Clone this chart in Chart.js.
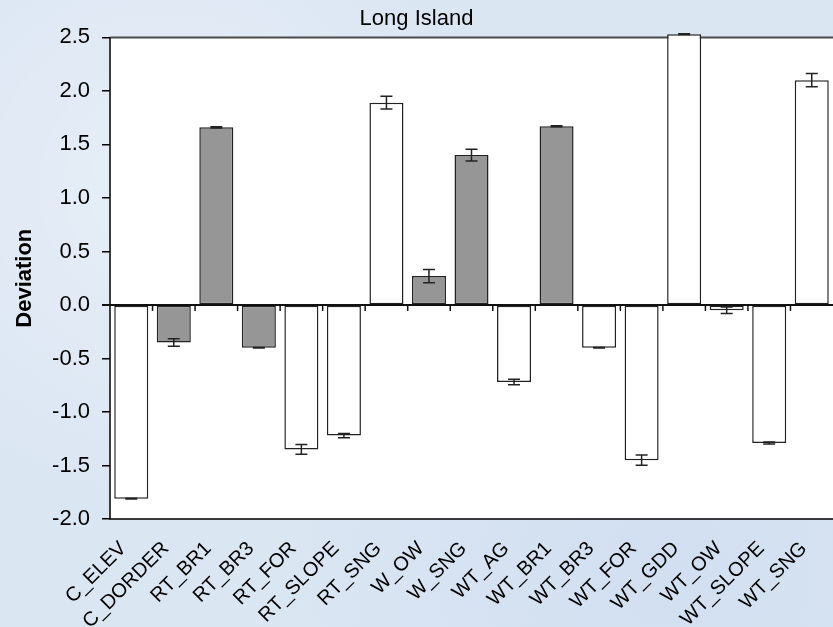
<!DOCTYPE html>
<html>
<head>
<meta charset="utf-8">
<script src="https://cdn.jsdelivr.net/npm/chart.js@4.4.1/dist/chart.umd.min.js"></script>
<style>
  html, body { margin: 0; padding: 0; overflow: hidden; }
  body {
    width: 833px; height: 627px;
    background-color: #dbe6f3;
    background-image:
      radial-gradient(circle at 20% 30%, rgba(255,255,255,0.35), rgba(255,255,255,0) 40%),
      radial-gradient(circle at 80% 90%, rgba(190,210,235,0.35), rgba(190,210,235,0) 45%);
  }
  #wrap { width: 833px; height: 627px; position: relative; }
</style>
</head>
<body>
<div id="wrap"><canvas id="graficoDesviacion"></canvas></div>
<script>
// categorias y valores
const categorias = ['C_ELEV', 'C_DORDER', 'RT_BR1', 'RT_BR3', 'RT_FOR', 'RT_SLOPE', 'RT_SNG', 'W_OW',
  'W_SNG', 'WT_AG', 'WT_BR1', 'WT_BR3', 'WT_FOR', 'WT_GDD', 'WT_OW', 'WT_SLOPE', 'WT_SNG'];
const desviacion = [-1.81, -0.35, 1.66, -0.40, -1.35, -1.22, 1.89, 0.27,
  1.40, -0.72, 1.67, -0.40, -1.45, 2.53, -0.05, -1.29, 2.10];
const errores = [0.003, 0.035, 0.006, 0.003, 0.045, 0.02, 0.06, 0.062,
  0.056, 0.025, 0.004, 0.003, 0.047, 0.004, 0.03, 0.01, 0.062];
// true = barra gris
const esGris = [false, true, true, true, false, false, false, true,
  true, false, true, false, false, false, false, false, false];
const ticksY = [-2.0, -1.5, -1.0, -0.5, 0.0, 0.5, 1.0, 1.5, 2.0, 2.5];

const colores = esGris.map(g => g ? '#969696' : '#ffffff');

// fondo blanco, marco, linea cero y barras de error
const marcoPlugin = {
  id: 'marco',
  beforeDatasetsDraw(chart) {
    const { ctx, chartArea: a } = chart;
    ctx.save();
    ctx.fillStyle = '#ffffff';
    ctx.fillRect(a.left, a.top, a.right - a.left, a.bottom - a.top);
    ctx.lineWidth = 2;
    ctx.strokeStyle = '#4a4a4a';
    ctx.beginPath();
    ctx.moveTo(a.left, a.top);
    ctx.lineTo(a.right, a.top);
    ctx.stroke();
    ctx.strokeStyle = '#000000';
    ctx.lineWidth = 1.5;
    ctx.beginPath();
    ctx.moveTo(a.left, a.top);
    ctx.lineTo(a.left, a.bottom);
    ctx.lineTo(a.right, a.bottom);
    ctx.stroke();
    ctx.restore();
  },
  afterDatasetsDraw(chart) {
    const { ctx, chartArea: a, scales } = chart;
    const x = scales.x, y = scales.y;
    const y0 = y.getPixelForValue(0);
    ctx.save();
    // barras de error
    ctx.strokeStyle = '#222222';
    ctx.lineWidth = 1.5;
    desviacion.forEach((v, i) => {
      const cx = x.getPixelForValue(i);
      const yHi = y.getPixelForValue(v + errores[i]);
      const yLo = y.getPixelForValue(v - errores[i]);
      ctx.beginPath();
      ctx.moveTo(cx, yHi); ctx.lineTo(cx, yLo);
      ctx.moveTo(cx - 6, yHi); ctx.lineTo(cx + 6, yHi);
      ctx.moveTo(cx - 6, yLo); ctx.lineTo(cx + 6, yLo);
      ctx.stroke();
    });
    // linea cero
    ctx.strokeStyle = '#111111';
    ctx.lineWidth = 2;
    ctx.beginPath();
    ctx.moveTo(a.left - 8, y0);
    ctx.lineTo(a.right, y0);
    ctx.stroke();
    // marcas entre categorias
    ctx.lineWidth = 1.5;
    const paso = (a.right - a.left) / categorias.length;
    for (let i = 1; i < categorias.length; i++) {
      const tx = a.left + paso * i;
      ctx.beginPath();
      ctx.moveTo(tx, y0);
      ctx.lineTo(tx, y0 + 6);
      ctx.stroke();
    }
    ctx.restore();
  }
};

const ctx = document.getElementById('graficoDesviacion');
new Chart(ctx, {
  type: 'bar',
  data: {
    labels: categorias,
    datasets: [{
      label: 'Deviation',
      data: desviacion,
      backgroundColor: colores,
      borderColor: '#222222',
      borderWidth: 1.5,
      borderSkipped: false,
      barPercentage: 0.8,
      categoryPercentage: 1.0,
      clip: false
    }]
  },
  options: {
    responsive: true,
    maintainAspectRatio: false,
    animation: false,
    layout: { padding: { left: 0, right: 0, top: 0, bottom: 0 } },
    plugins: {
      legend: { display: false },
      tooltip: { enabled: false },
      title: {
        display: true,
        text: 'Long Island',
        color: '#000000',
        font: { family: 'Liberation Sans, Arial, sans-serif', size: 22, weight: 'normal' },
        padding: { top: 6, bottom: 5 }
      }
    },
    scales: {
      x: {
        grid: { display: false, drawTicks: false },
        border: { display: false },
        ticks: {
          color: '#000000',
          maxRotation: 45,
          minRotation: 45,
          autoSkip: false,
          padding: 18,
          labelOffset: -8,
          font: { family: 'Liberation Sans, Arial, sans-serif', size: 20 }
        },
        afterFit(scale) {
          scale.height = 108;
          scale.paddingLeft = 0;
          scale.paddingRight = 0;
        }
      },
      y: {
        min: -2.0,
        max: 2.5,
        afterBuildTicks(scale) { scale.ticks = ticksY.map(v => ({ value: v })); },
        grid: { drawOnChartArea: false, tickLength: 8, color: '#000000', lineWidth: 1.5 },
        border: { display: false },
        ticks: {
          color: '#000000',
          padding: 12,
          font: { family: 'Liberation Sans, Arial, sans-serif', size: 22 },
          callback: v => Number(v).toFixed(1)
        },
        title: {
          display: true,
          text: 'Deviation',
          color: '#000000',
          padding: { top: 12, bottom: 0 },
          font: { family: 'Liberation Sans, Arial, sans-serif', size: 22, weight: 'bold' }
        },
        afterFit(scale) { scale.width = 110; }
      }
    }
  },
  plugins: [marcoPlugin]
});
</script>
</body>
</html>
